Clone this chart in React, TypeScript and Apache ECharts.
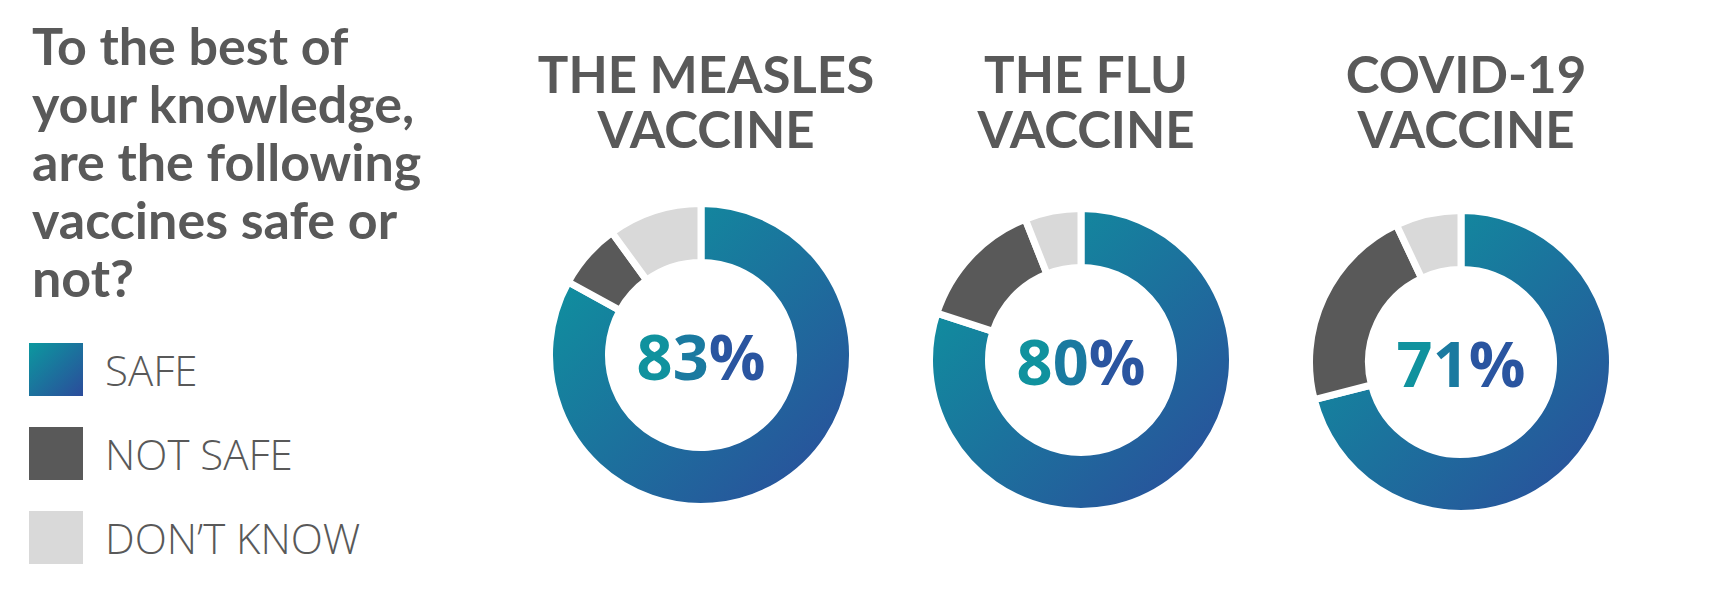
import { useEffect, useRef } from "react"
import * as echarts from "echarts"

const question = "To the best of\nyour knowledge,\nare the following\nvaccines safe or\nnot?"
const vaccines = ["THE MEASLES", "THE FLU", "COVID-19"]
const vaccineSuffix = "VACCINE"
const responses = ["SAFE", "NOT SAFE", "DON\u2019T KNOW"]
const safe = [83, 80, 71]
const notSafe = [7, 14, 22]
const dontKnow = [10, 6, 7]

const centers = [
  [701, 355],
  [1081, 360],
  [1461, 362],
]

const GREY = "#595959"
const LIGHT = "#d9d9d9"

const gradient = () =>
  new echarts.graphic.LinearGradient(0, 0, 1, 1, [
    { offset: 0, color: "#0b9a9f" },
    { offset: 1, color: "#2c4a9b" },
  ])

const pctStyle = (color: string) => ({
  fontFamily: "Open Sans",
  fontWeight: "bold",
  fontSize: 63,
  color,
})

const heading = (text: string, x: number, top: number) => ({
  text,
  left: x,
  top,
  textAlign: "center",
  textStyle: {
    fontFamily: "Lato",
    fontWeight: "bold",
    fontSize: 51,
    lineHeight: 55,
    color: GREY,
  },
})

export default function App() {
  const chartRef = useRef<HTMLDivElement>(null)

  useEffect(() => {
    if (!chartRef.current) return
    const chart = echarts.init(chartRef.current, undefined, { renderer: "svg" })

    const series = vaccines.map((name, i) => ({
      name,
      type: "pie",
      center: centers[i],
      radius: [92.5, 151.5],
      startAngle: 90,
      silent: true,
      labelLine: { show: false },
      label: { show: false },
      itemStyle: { borderColor: "#ffffff", borderWidth: 7 },
      data: [
        {
          name: responses[0],
          value: safe[i],
          itemStyle: { color: gradient() },
          label: {
            show: true,
            position: "center",
            formatter: (p: any) => {
              const s = String(p.value)
              return `{d0|${s[0]}}{d1|${s.slice(1)}}{p|%}`
            },
            rich: {
              d0: pctStyle("#10929e"),
              d1: pctStyle("#1a7aa0"),
              p: pctStyle("#2a55a0"),
            },
          },
        },
        { name: responses[1], value: notSafe[i], itemStyle: { color: GREY } },
        { name: responses[2], value: dontKnow[i], itemStyle: { color: LIGHT } },
      ],
    }))

    chart.setOption({
      animation: false,
      backgroundColor: "#ffffff",
      title: [
        {
          text: question,
          left: 27,
          top: 11,
          textStyle: {
            fontFamily: "Lato",
            fontWeight: "bold",
            fontSize: 52,
            lineHeight: 58,
            color: GREY,
          },
        },
        ...vaccines.map((name, i) => heading(name, centers[i][0], 41)),
        ...vaccines.map((_, i) => heading(vaccineSuffix, centers[i][0], 96)),
      ],
      legend: {
        orient: "vertical",
        left: 22,
        top: 336,
        icon: "rect",
        itemWidth: 56,
        itemHeight: 55,
        itemGap: 27,
        selectedMode: false,
        data: responses,
        textStyle: {
          fontFamily: "Open Sans",
          fontWeight: 300,
          fontSize: 42,
          color: GREY,
          padding: [0, 0, 0, 16],
        },
      },
      series,
    })

    return () => {
      chart.dispose()
    }
  }, [])

  return (
    <div
      ref={chartRef}
      style={{ position: "fixed", left: 0, top: 0, width: 1736, height: 592, background: "#fff" }}
    />
  )
}
